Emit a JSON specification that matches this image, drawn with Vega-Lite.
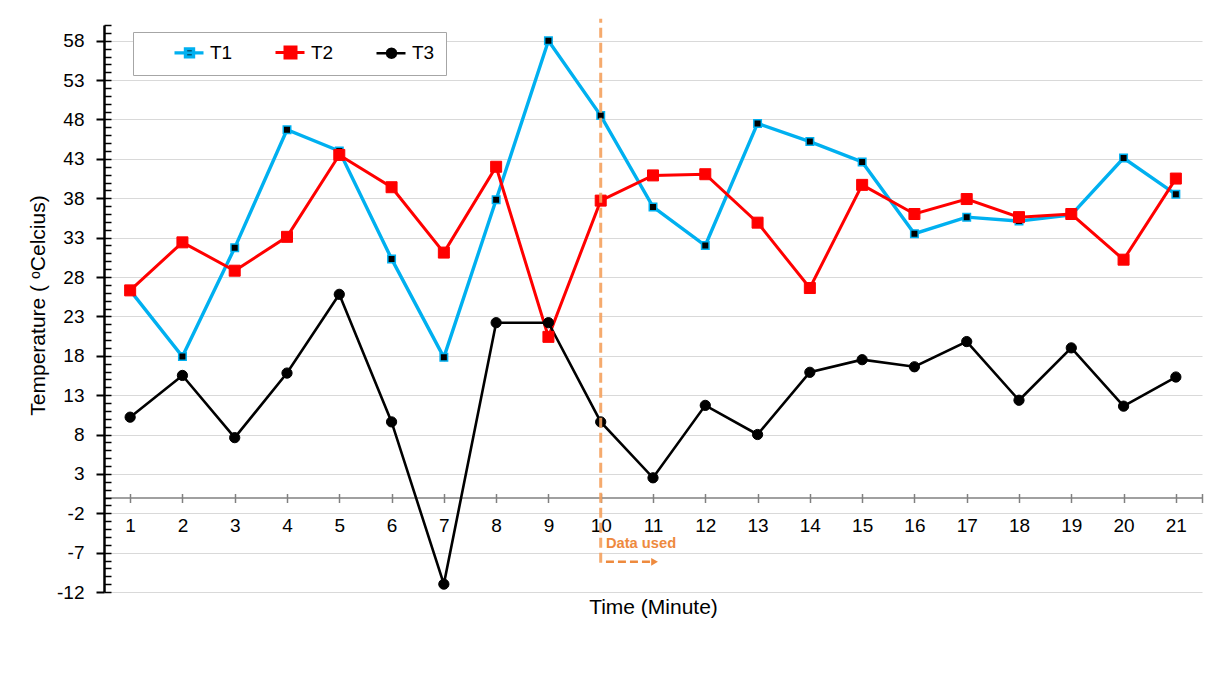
{
  "$schema": "https://vega.github.io/schema/vega-lite/v6.json",
  "width": 1098,
  "height": 567,
  "autosize": "none",
  "padding": {"left": 104, "top": 25, "right": 10, "bottom": 81},
  "background": "white",
  "config": {
    "view": {"stroke": null},
    "font": "Liberation Sans",
    "axis": {"labelFont": "Liberation Sans", "titleFont": "Liberation Sans", "labelFontSize": 19, "titleFontSize": 21, "titleFontWeight": "normal", "labelColor": "#000000", "titleColor": "#000000"},
    "legend": {"orient": "none", "legendX": 29, "legendY": 7, "direction": "horizontal", "padding": 11, "fillColor": "white", "strokeColor": "#A6A6A6", "symbolSize": 100, "symbolStrokeWidth": 2, "symbolOpacity": 1, "labelFontSize": 19, "labelFont": "Liberation Sans", "labelColor": "#000000", "labelOffset": 47, "columnPadding": 12}
  },
  "datasets": {
    "temps": [
      {"t": 1, "s": "T1", "v": 26.3}, {"t": 2, "s": "T1", "v": 17.9}, {"t": 3, "s": "T1", "v": 31.7}, {"t": 4, "s": "T1", "v": 46.7}, {"t": 5, "s": "T1", "v": 44.0}, {"t": 6, "s": "T1", "v": 30.3}, {"t": 7, "s": "T1", "v": 17.8}, {"t": 8, "s": "T1", "v": 37.8}, {"t": 9, "s": "T1", "v": 58.0}, {"t": 10, "s": "T1", "v": 48.5}, {"t": 11, "s": "T1", "v": 36.9}, {"t": 12, "s": "T1", "v": 32.0}, {"t": 13, "s": "T1", "v": 47.5}, {"t": 14, "s": "T1", "v": 45.2}, {"t": 15, "s": "T1", "v": 42.6}, {"t": 16, "s": "T1", "v": 33.5}, {"t": 17, "s": "T1", "v": 35.6}, {"t": 18, "s": "T1", "v": 35.1}, {"t": 19, "s": "T1", "v": 35.9}, {"t": 20, "s": "T1", "v": 43.1}, {"t": 21, "s": "T1", "v": 38.5},
      {"t": 1, "s": "T2", "v": 26.3}, {"t": 2, "s": "T2", "v": 32.4}, {"t": 3, "s": "T2", "v": 28.8}, {"t": 4, "s": "T2", "v": 33.1}, {"t": 5, "s": "T2", "v": 43.5}, {"t": 6, "s": "T2", "v": 39.4}, {"t": 7, "s": "T2", "v": 31.1}, {"t": 8, "s": "T2", "v": 42.0}, {"t": 9, "s": "T2", "v": 20.4}, {"t": 10, "s": "T2", "v": 37.7}, {"t": 11, "s": "T2", "v": 40.9}, {"t": 12, "s": "T2", "v": 41.05}, {"t": 13, "s": "T2", "v": 34.9}, {"t": 14, "s": "T2", "v": 26.6}, {"t": 15, "s": "T2", "v": 39.7}, {"t": 16, "s": "T2", "v": 36.0}, {"t": 17, "s": "T2", "v": 37.9}, {"t": 18, "s": "T2", "v": 35.6}, {"t": 19, "s": "T2", "v": 36.0}, {"t": 20, "s": "T2", "v": 30.2}, {"t": 21, "s": "T2", "v": 40.5},
      {"t": 1, "s": "T3", "v": 10.2}, {"t": 2, "s": "T3", "v": 15.5}, {"t": 3, "s": "T3", "v": 7.6}, {"t": 4, "s": "T3", "v": 15.8}, {"t": 5, "s": "T3", "v": 25.8}, {"t": 6, "s": "T3", "v": 9.6}, {"t": 7, "s": "T3", "v": -11.0}, {"t": 8, "s": "T3", "v": 22.2}, {"t": 9, "s": "T3", "v": 22.2}, {"t": 10, "s": "T3", "v": 9.6}, {"t": 11, "s": "T3", "v": 2.5}, {"t": 12, "s": "T3", "v": 11.7}, {"t": 13, "s": "T3", "v": 8.0}, {"t": 14, "s": "T3", "v": 15.9}, {"t": 15, "s": "T3", "v": 17.5}, {"t": 16, "s": "T3", "v": 16.6}, {"t": 17, "s": "T3", "v": 19.8}, {"t": 18, "s": "T3", "v": 12.35}, {"t": 19, "s": "T3", "v": 19.0}, {"t": 20, "s": "T3", "v": 11.6}, {"t": 21, "s": "T3", "v": 15.3}
    ]
  },
  "layer": [
    {
      "data": {"name": "temps"},
      "mark": {"type": "line"},
      "encoding": {
        "x": {"field": "t", "type": "quantitative", "scale": {"domain": [0.5, 21.5], "nice": false, "zero": false},
          "axis": {"values": [1,2,3,4,5,6,7,8,9,10,11,12,13,14,15,16,17,18,19,20,21,21.5], "labelExpr": "datum.value > 21 ? '' : datum.label", "labelOverlap": false, "offset": -94.5, "tickSize": 5, "tickColor": "#808080", "tickWidth": 1.5, "domainColor": "#808080", "domainWidth": 1.5, "labelPadding": 14, "grid": false, "title": "Time (Minute)", "titleY": 109.5, "titleBaseline": "middle"}},
        "y": {"field": "v", "type": "quantitative", "scale": {"domain": [-12, 60], "nice": false, "zero": false},
          "axis": {"values": [-12,-7,-2,3,8,13,18,23,28,33,38,43,48,53,58], "labelExpr": "'' + datum.value", "grid": true, "gridColor": "#D9D9D9", "gridWidth": 1.2, "domainColor": "#000000", "domainWidth": 2.5, "tickColor": "#000000", "tickWidth": 2, "tickSize": 8, "labelPadding": 12, "labelOverlap": false, "title": "Temperature ( ᵒCelcius)", "titleX": -66, "titleY": 280, "titleBaseline": "middle"}},
        "color": {"field": "s", "type": "nominal", "scale": {"domain": ["T1", "T2", "T3"], "range": ["#00B0F0", "#FF0000", "#000000"]}, "legend": {"title": null}},
        "strokeWidth": {"field": "s", "type": "nominal", "scale": {"domain": ["T1", "T2", "T3"], "range": [3.4, 2.6, 2.8]}, "legend": null}
      }
    },
    {
      "data": {"name": "temps"},
      "mark": {"type": "point", "opacity": 0, "filled": true},
      "encoding": {
        "x": {"field": "t", "type": "quantitative", "axis": null},
        "y": {"field": "v", "type": "quantitative", "axis": null},
        "shape": {"field": "s", "type": "nominal", "scale": {"domain": ["T1", "T2", "T3"], "range": [
          "M4.2,0L10,0M6.4,-0.8L8,-0.8L8,0.8L6.4,0.8Z",
          "M4.2,0L10,0M6.1,-1.1L8.3,-1.1L8.3,1.1L6.1,1.1Z",
          "M4.2,0L10,0M8.1,0L7.98,0.45L7.65,0.78L7.2,0.9L6.75,0.78L6.42,0.45L6.3,0L6.42,-0.45L6.75,-0.78L7.2,-0.9L7.65,-0.78L7.98,-0.45Z"]}, "legend": {"title": null}},
        "fill": {"field": "s", "type": "nominal", "scale": {"domain": ["T1", "T2", "T3"], "range": ["#000000", "#FF0000", "#000000"]}, "legend": {"title": null}},
        "stroke": {"field": "s", "type": "nominal", "scale": {"domain": ["T1", "T2", "T3"], "range": ["#00B0F0", "#FF0000", "#000000"]}, "legend": {"title": null}}
      }
    },
    {
      "data": {"name": "temps"},
      "transform": [{"filter": "datum.s === 'T1'"}],
      "mark": {"type": "point", "shape": "square", "filled": true, "opacity": 1, "fill": "#000000", "stroke": "#00B0F0", "strokeWidth": 1.5, "size": 56},
      "encoding": {
        "x": {"field": "t", "type": "quantitative", "axis": null},
        "y": {"field": "v", "type": "quantitative", "axis": null}
      }
    },
    {
      "data": {"name": "temps"},
      "transform": [{"filter": "datum.s === 'T2'"}],
      "mark": {"type": "point", "shape": "square", "filled": true, "opacity": 1, "fill": "#FF0000", "stroke": "#FF0000", "strokeWidth": 1, "size": 121},
      "encoding": {
        "x": {"field": "t", "type": "quantitative", "axis": null},
        "y": {"field": "v", "type": "quantitative", "axis": null}
      }
    },
    {
      "data": {"name": "temps"},
      "transform": [{"filter": "datum.s === 'T3'"}],
      "mark": {"type": "point", "shape": "circle", "filled": true, "opacity": 1, "fill": "#000000", "stroke": "#000000", "strokeWidth": 1, "size": 105},
      "encoding": {
        "x": {"field": "t", "type": "quantitative", "axis": null},
        "y": {"field": "v", "type": "quantitative", "axis": null}
      }
    },
    {
      "data": {"values": [{"x": 10.1, "y": -5.87, "label": "Data used"}]},
      "mark": {"type": "text", "align": "left", "baseline": "middle", "font": "Liberation Sans", "fontWeight": "bold", "fontSize": 14.7, "color": "#EE8A3E"},
      "encoding": {
        "x": {"field": "x", "type": "quantitative", "axis": null},
        "y": {"field": "y", "type": "quantitative", "axis": null},
        "text": {"field": "label"}
      }
    },
    {
      "data": {"values": [{"x": 10.1, "x2": 10.95, "y": -8.16}]},
      "mark": {"type": "rule", "color": "#EE8A3E", "strokeWidth": 2.5, "strokeDash": [8, 4]},
      "encoding": {
        "x": {"field": "x", "type": "quantitative", "axis": null},
        "x2": {"field": "x2"},
        "y": {"field": "y", "type": "quantitative", "axis": null}
      }
    },
    {
      "data": {"values": [{"x": 11.03, "y": -8.16}]},
      "mark": {"type": "point", "shape": "triangle-right", "filled": true, "size": 60, "color": "#EE8A3E", "opacity": 1},
      "encoding": {
        "x": {"field": "x", "type": "quantitative", "axis": null},
        "y": {"field": "y", "type": "quantitative", "axis": null}
      }
    },
    {
      "data": {"values": [{"x": 10, "y": -8.3, "y2": 60.8}]},
      "mark": {"type": "rule", "color": "#F4A15D", "strokeWidth": 3, "strokeDash": [10, 5], "opacity": 0.9},
      "encoding": {
        "x": {"field": "x", "type": "quantitative",
          "axis": {"orient": "bottom", "offset": -94.5, "values": [1,2,3,4,5,6,7,8,9,10,11,12,13,14,15,16,17,18,19,20,21,21.5], "tickSize": -4, "tickColor": "#808080", "tickWidth": 1.5, "labels": false, "domain": false, "grid": false, "title": null}},
        "y": {"field": "y", "type": "quantitative",
          "axis": {"orient": "left", "values": [-12,-11,-10,-9,-8,-7,-6,-5,-4,-3,-2,-1,0,1,2,3,4,5,6,7,8,9,10,11,12,13,14,15,16,17,18,19,20,21,22,23,24,25,26,27,28,29,30,31,32,33,34,35,36,37,38,39,40,41,42,43,44,45,46,47,48,49,50,51,52,53,54,55,56,57,58,59,60], "tickSize": -7, "tickColor": "#000000", "tickWidth": 1.5, "labels": false, "domain": false, "grid": false, "title": null}},
        "y2": {"field": "y2"}
      }
    }
  ],
  "resolve": {"axis": {"x": "independent", "y": "independent"}}
}
